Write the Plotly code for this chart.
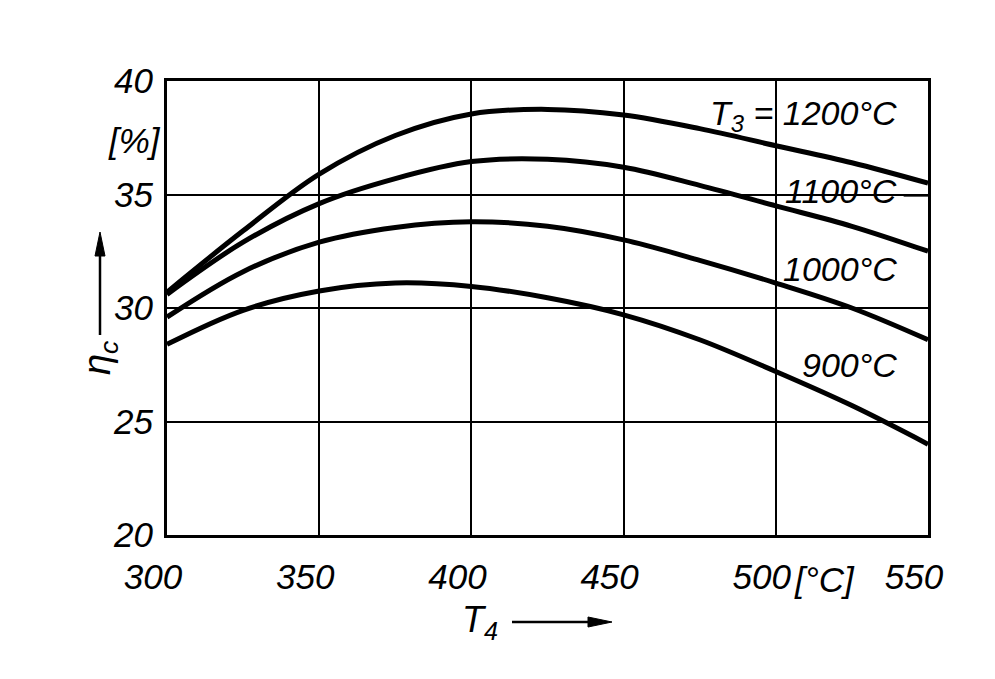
import plotly.graph_objects as go

# Data
T4 = [300, 325, 350, 375, 400, 425, 450, 475, 500, 525, 550]
eta_1200 = [30.7, 33.4, 35.9, 37.6, 38.55, 38.75, 38.5, 37.9, 37.15, 36.4, 35.5]
eta_1100 = [30.6, 32.9, 34.6, 35.7, 36.45, 36.55, 36.2, 35.4, 34.5, 33.6, 32.5]
eta_1000 = [29.6, 31.6, 32.9, 33.55, 33.8, 33.6, 33.0, 32.1, 31.1, 30.0, 28.6]
eta_900 = [28.4, 29.9, 30.75, 31.1, 30.95, 30.45, 29.7, 28.6, 27.2, 25.7, 24.0]

series = [
    ("T<sub>3</sub> = 1200°C", eta_1200, 38.5),
    ("1100°C", eta_1100, 35.15),
    ("1000°C", eta_1000, 31.7),
    ("900°C", eta_900, 27.5),
]

x_ticks = [300, 350, 400, 450, 500, 550]
x_ticktext = ["300", "350", "400", "450", "500", "550"]
y_ticks = [20, 25, 30, 35, 40]
y_ticktext = ["20", "25", "30", "35", "40"]

FONT = "Liberation Sans, Arial, sans-serif"
tickfont = dict(family=FONT, size=35, color="black", style="italic")
labfont = dict(family=FONT, size=34, color="black", style="italic")

W, H = 995, 679
ML, MR, MT, MB = 167, 67, 81, 144
PW, PH = W - ML - MR, H - MT - MB


def px2paper(px, py):
    return (px - ML) / PW, (H - MB - py) / PH


fig = go.Figure()
for name, vals, ylab in series:
    fig.add_trace(go.Scatter(x=T4, y=vals, mode="lines",
                             line=dict(color="black", width=5, shape="spline", smoothing=1.0),
                             showlegend=False, hoverinfo="skip"))
    fig.add_annotation(x=540.5, y=ylab, xref="x", yref="y", text=name,
                       xanchor="right", yanchor="middle", showarrow=False,
                       font=labfont)

# small leader after 1100°C label
fig.add_shape(type="line", xref="x", yref="y", x0=542, x1=550, y0=34.95, y1=34.95,
              line=dict(color="black", width=2))

# [%] unit under 40
fig.add_annotation(xref="paper", yref="paper", x=-0.043, y=0.87, text="[%]",
                   showarrow=False, xanchor="center", yanchor="middle", font=tickfont)
# [°C] after 500
cx, cy = px2paper(792, 579)
fig.add_annotation(xref="paper", yref="paper", x=cx, y=cy, text="[°C]",
                   showarrow=False, xanchor="left", yanchor="middle", font=tickfont)

# y-axis title eta_c
ex, ey = px2paper(100, 358)
fig.add_annotation(xref="paper", yref="paper", x=ex, y=ey,
                   text="η<sub>c</sub>", textangle=-90, showarrow=False,
                   xanchor="center", yanchor="middle",
                   font=dict(family=FONT, size=38, color="black", style="italic"))
# x-axis title T4
tx, ty = px2paper(480, 622)
fig.add_annotation(xref="paper", yref="paper", x=tx, y=ty,
                   text="T<sub>4</sub>", showarrow=False,
                   xanchor="center", yanchor="middle",
                   font=dict(family=FONT, size=36, color="black", style="italic"))


def arrow(x0, y0, x1, y1, hx, hy):
    a0 = px2paper(x0, y0)
    a1 = px2paper(x1, y1)
    fig.add_shape(type="line", xref="paper", yref="paper",
                  x0=a0[0], y0=a0[1], x1=a1[0], y1=a1[1],
                  line=dict(color="black", width=2.5))
    # head triangle
    if x0 == x1:  # vertical up
        pts = [(x1, y1 - hy), (x1 - hx, y1 + 4), (x1 + hx, y1 + 4)]
    else:  # horizontal right
        pts = [(x1 + hy, y1), (x1 - 4, y1 - hx), (x1 - 4, y1 + hx)]
    pp = [px2paper(*p) for p in pts]
    path = "M {} {} L {} {} L {} {} Z".format(pp[0][0], pp[0][1], pp[1][0], pp[1][1],
                                             pp[2][0], pp[2][1])
    fig.add_shape(type="path", xref="paper", yref="paper", path=path,
                  fillcolor="black", line=dict(color="black", width=1))


arrow(100, 335, 100, 252, 5, 20)
arrow(512, 622, 592, 622, 5, 20)

fig.update_xaxes(range=[300, 550], tickmode="array", tickvals=x_ticks, ticktext=x_ticktext,
                 showgrid=True, gridcolor="black", gridwidth=2,
                 showline=True, linecolor="black", linewidth=3, mirror=True,
                 zeroline=False, ticks="", tickfont=tickfont,
                 ticklabelstandoff=9, ticklabelshift=-14)
fig.update_yaxes(range=[20, 40], tickmode="array", tickvals=y_ticks, ticktext=y_ticktext,
                 showgrid=True, gridcolor="black", gridwidth=2,
                 showline=True, linecolor="black", linewidth=3, mirror=True,
                 zeroline=False, ticks="", tickfont=tickfont,
                 ticklabelstandoff=4)

fig.update_layout(width=W, height=H,
                  margin=dict(l=ML, r=MR, t=MT, b=MB),
                  paper_bgcolor="white", plot_bgcolor="white",
                  showlegend=False)

fig.write_html("out.html")
